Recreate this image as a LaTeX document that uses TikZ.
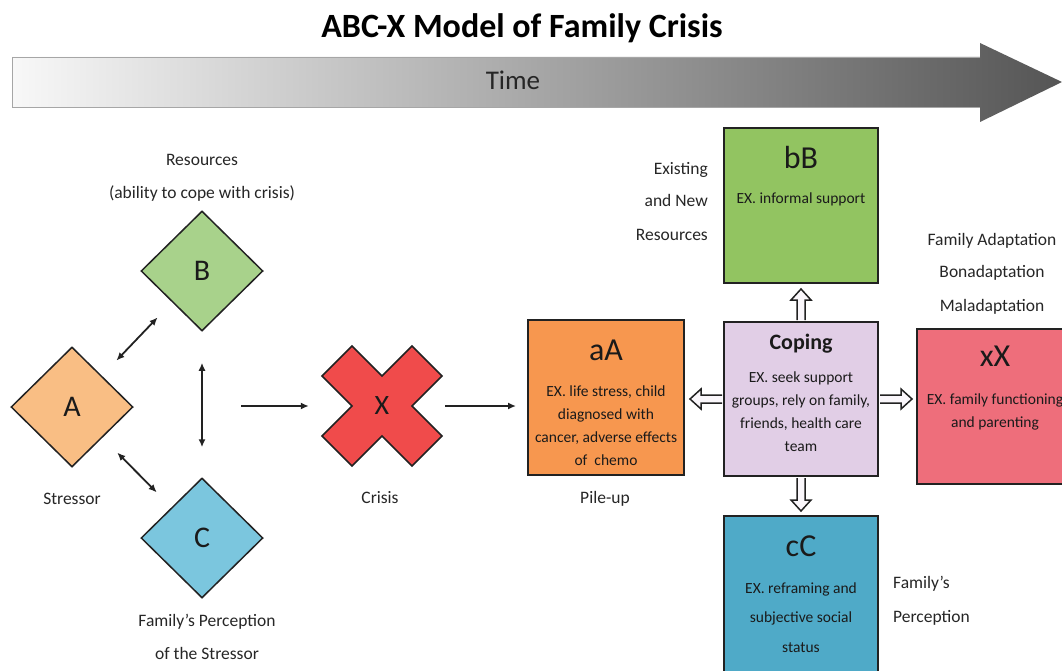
\documentclass[tikz,border=0pt]{standalone}
\usepackage{fontspec}
\setmainfont{Carlito}
\usetikzlibrary{shapes.geometric,arrows.meta,calc}
\definecolor{labelc}{HTML}{262626}
\definecolor{txtc}{HTML}{1A1A1A}
\definecolor{edgec}{HTML}{222222}
\definecolor{diaA}{HTML}{F9BE84}
\definecolor{diaB}{HTML}{A8D28B}
\definecolor{diaC}{HTML}{7BC6DE}
\definecolor{crossc}{HTML}{F04B4B}
\definecolor{boxa}{HTML}{F7974F}
\definecolor{boxb}{HTML}{92C461}
\definecolor{boxcop}{HTML}{E1CEE6}
\definecolor{boxx}{HTML}{EE6E7B}
\definecolor{boxc}{HTML}{4FAAC8}
\definecolor{arrfill}{HTML}{FAF7FB}
\definecolor{tleft}{HTML}{F8F8F8}
\definecolor{tmid}{HTML}{C4C4C4}
\definecolor{tright}{HTML}{555555}
\newcommand\fsz[1]{\fontsize{#1}{#1}\selectfont}
\begin{document}
\begin{tikzpicture}[x=1pt,y=-1pt,
  lbl/.style={text=labelc, font=\fsz{17.5}, inner sep=0, anchor=base},
  boxtxt/.style={text=txtc, font=\fsz{15.5}, inner sep=0, anchor=base},
  bigtxt/.style={text=txtc, font=\fsz{32}, inner sep=0, anchor=base},
  dia/.style={diamond, draw=edgec, line width=1.5pt, minimum width=122pt, minimum height=120pt, inner sep=0, font=\fsz{30}, text=txtc},
  boxn/.style={rectangle, draw=edgec, line width=2pt, minimum width=154pt, minimum height=155pt, inner sep=0},
  conn/.style={line width=1.8pt, edgec, -{Latex[length=8pt,width=7pt]}},
  dconn/.style={line width=1.8pt, edgec, {Latex[length=8pt,width=7pt]}-{Latex[length=8pt,width=7pt]}},
  barrow/.style={draw=edgec, line width=1.5pt, fill=arrfill, line join=miter}
]
\useasboundingbox (0,0) rectangle (1062,671);
\clip (0,0) rectangle (1062,671);

% title
\node[font=\bfseries\fsz{34}, text=black, inner sep=0, anchor=base] (title) at (522,38) {ABC-X Model of Family Crisis};

% time arrow
\shade[left color=tleft, middle color=tmid, right color=tright]
  (12,57) -- (980,57) -- (980,43) -- (1062,82) -- (980,122) -- (980,107) -- (12,107) -- cycle;
\draw[gray!70, line width=0.8pt] (980,57) -- (12,57) -- (12,107) -- (980,107);
\node[font=\fsz{27}, text=labelc, inner sep=0, anchor=base] (time) at (513,90) {Time};

% diamonds
\node[dia, fill=diaA] (A) at (72,407) {A};
\node[dia, fill=diaB] (B) at (202,271) {B};
\node[dia, fill=diaC] (C) at (202,538) {C};
\node[lbl] (resl1) at (202,166) {Resources};
\node[lbl] (resl2) at (202,199) {(ability to cope with crisis)};
\node[lbl] (strl) at (72,504) {Stressor};
\node[lbl] (perl1) at (207,626) {Family’s Perception};
\node[lbl] (perl2) at (207,659) {of the Stressor};

\draw[dconn, shorten <=21pt, shorten >=21pt] (A) -- (B);
\draw[dconn, shorten <=21pt, shorten >=21pt] (A) -- (C);
\draw[dconn, shorten <=31pt, shorten >=30pt] (B.south) -- (C.north);

% crisis cross
\begin{scope}[shift={(382,406)}]
\draw[fill=crossc, draw=edgec, line width=1.5pt, line join=miter]
  (-60,-30) -- (-30,-60) -- (0,-30) -- (30,-60) -- (60,-30) -- (30,0) --
  (60,30) -- (30,60) -- (0,30) -- (-30,60) -- (-60,30) -- (-30,0) -- cycle;
\end{scope}
\node[minimum width=120pt, minimum height=120pt, inner sep=0, font=\fsz{28}, text=txtc] (X) at (382,406) {X};
\node[lbl] (crisl) at (380,503) {Crisis};
\coordinate (abc) at (241,406);
\draw[conn, shorten >=13pt] (abc) -- (X);

% boxes
\node[boxn, fill=boxa, minimum width=156pt] (aA) at (606,397.5) {};
\node[boxn, fill=boxb] (bB) at (801,205.5) {};
\node[boxn, fill=boxcop, minimum height=154pt] (cop) at (801,399) {};
\node[boxn, fill=boxx, minimum width=156pt] (xX) at (995,406) {};
\node[boxn, fill=boxc, minimum height=160pt] (cC) at (801,596) {};

\draw[conn, shorten <=3pt, shorten >=11pt] (X.east) -- (aA.west |- X.east);

% aA text
\node[bigtxt] (aAt) at (606,360) {aA};
\node[boxtxt] (aA1) at (606,396) {EX. life stress, child};
\node[boxtxt] (aA2) at (606,419) {diagnosed with};
\node[boxtxt] (aA3) at (606,442) {cancer, adverse effects};
\node[boxtxt] (aA4) at (606,465) {of\ \ chemo};
\node[lbl] (pilel) at (605,503) {Pile-up};

% bB text
\node[bigtxt] (bBt) at (801,168) {bB};
\node[boxtxt] (bB1) at (801,204) {EX. informal support};
\node[lbl, anchor=base east] (exl1) at (708,175) {Existing};
\node[lbl, anchor=base east] (exl2) at (708,207) {and New};
\node[lbl, anchor=base east] (exl3) at (708,240) {Resources};

% coping text
\node[font=\bfseries\fsz{22}, text=txtc, inner sep=0, anchor=base] (copt) at (801,349) {Coping};
\node[boxtxt] (cop1) at (801,382) {EX. seek support};
\node[boxtxt] (cop2) at (801,405) {groups, rely on family,};
\node[boxtxt] (cop3) at (801,428) {friends, health care};
\node[boxtxt] (cop4) at (801,451) {team};

% xX text
\node[bigtxt] (xXt) at (995,366) {xX};
\node[boxtxt] (xX1) at (995,404) {EX. family functioning};
\node[boxtxt] (xX2) at (995,427) {and parenting};
\node[lbl] (fal1) at (992,245) {Family Adaptation};
\node[lbl] (fal2) at (992,277) {Bonadaptation};
\node[lbl] (fal3) at (992,311) {Maladaptation};

% cC text
\node[bigtxt] (cCt) at (801,556) {cC};
\node[boxtxt] (cC1) at (801,593) {EX. reframing and};
\node[boxtxt] (cC2) at (801,622) {subjective social};
\node[boxtxt] (cC3) at (801,652) {status};
\node[lbl, anchor=base west] (fpl1) at (893,588) {Family’s};
\node[lbl, anchor=base west] (fpl2) at (893,622) {Perception};

% block arrows from coping
\filldraw[barrow] ($(cop.north)+(-4,-1)$) -- ($(bB.south)+(-4,16)$) -- ($(bB.south)+(-10,16)$)
  -- ($(bB.south)+(0,5)$) -- ($(bB.south)+(10,16)$) -- ($(bB.south)+(4,16)$) -- ($(cop.north)+(4,-1)$);
\filldraw[barrow] ($(cop.south)+(-4,1)$) -- ($(cC.north)+(-4,-15)$) -- ($(cC.north)+(-10,-15)$)
  -- ($(cC.north)+(0,-4)$) -- ($(cC.north)+(10,-15)$) -- ($(cC.north)+(4,-15)$) -- ($(cop.south)+(4,1)$);
\filldraw[barrow] ($(cop.west)+(-1,-4)$) -- ($(aA.east |- cop.west)+(16,-4)$) -- ($(aA.east |- cop.west)+(16,-10)$)
  -- ($(aA.east |- cop.west)+(5,0)$) -- ($(aA.east |- cop.west)+(16,10)$) -- ($(aA.east |- cop.west)+(16,4)$) -- ($(cop.west)+(-1,4)$);
\filldraw[barrow] ($(cop.east)+(1,-4)$) -- ($(xX.west |- cop.east)+(-15,-4)$) -- ($(xX.west |- cop.east)+(-15,-10)$)
  -- ($(xX.west |- cop.east)+(-4,0)$) -- ($(xX.west |- cop.east)+(-15,10)$) -- ($(xX.west |- cop.east)+(-15,4)$) -- ($(cop.east)+(1,4)$);
\end{tikzpicture}
\end{document}
